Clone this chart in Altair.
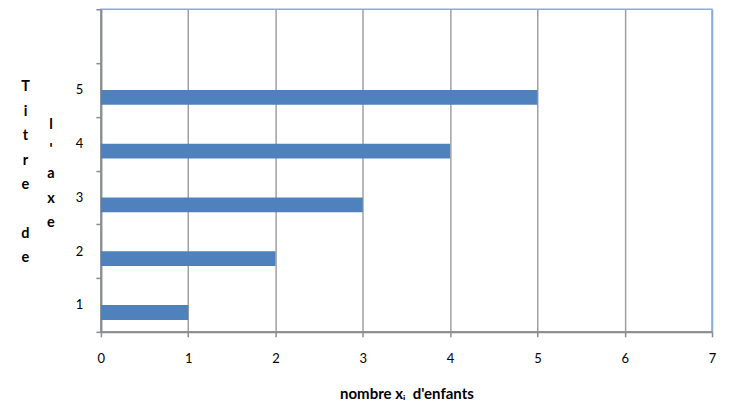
import altair as alt
import pandas as pd

# ---- data ----
categories = ["1", "2", "3", "4", "5"]
values = [1, 2, 3, 4, 5]
y_domain = [" ", "5", "4", "3", "2", "1"]   # top slot is empty
x_ticks = [0, 1, 2, 3, 4, 5, 6, 7]
series_name = "Série 1"
series_slots = ["Série 0", "Série 1"]
# y-axis title "Titre de l'axe", stacked letter by letter in two columns
y_title_words = ["Titre", "de", "l'axe"]
x_title = "nombre xᵢ\u2002d'enfants"

FONT = "Lato"
GREY = "#8c8c8c"
BLUE_BORDER = "#8eaadb"
LINE_H = 24.5

df = pd.DataFrame({"cat": categories, "val": values, "serie": [series_name] * len(values)})

bars = alt.Chart(df).mark_bar(color="#4f81bd").encode(
    x=alt.X(
        "val:Q",
        scale=alt.Scale(domain=[0, 7], nice=False, zero=True),
        axis=alt.Axis(
            values=x_ticks,
            format="d",
            grid=True,
            gridColor={"condition": {"test": "datum.value >= 7", "value": BLUE_BORDER}, "value": "#a0a0a0"},
            gridWidth=1.5,
            domainColor=GREY,
            domainWidth=2,
            tickColor=GREY,
            tickSize=5,
            tickWidth=1.5,
            labelFont=FONT,
            labelFontSize=13,
            labelColor="#000000",
            labelPadding=16,
            labelFlush=False,
            title=x_title,
            titleFont=FONT,
            titleFontSize=15,
            titleFontWeight="bold",
            titleColor="#000000",
            titleBaseline="alphabetic",
            titleY=67,
        ),
    ),
    y=alt.Y(
        "cat:N",
        scale=alt.Scale(domain=y_domain, paddingInner=0, paddingOuter=0),
        axis=alt.Axis(
            title=None,
            grid=False,
            tickBand="extent",
            tickColor=GREY,
            tickSize=5,
            tickWidth=1.5,
            domainColor=GREY,
            domainWidth=2,
            labelFont=FONT,
            labelFontSize=13,
            labelColor="#000000",
            labelPadding=13,
        ),
    ),
    yOffset=alt.YOffset(
        "serie:N",
        scale=alt.Scale(domain=series_slots, paddingInner=0, paddingOuter=0.8),
    ),
)


def stacked(word, x_px, y_px):
    return alt.Chart(alt.Data(values=[{"t": "\n".join(list(word))}])).mark_text(
        font=FONT, fontSize=14.5, fontWeight="bold", color="#000000",
        lineBreak="\n", lineHeight=LINE_H, align="center", baseline="alphabetic",
    ).encode(text="t:N", x=alt.value(x_px), y=alt.value(y_px))


t1 = stacked(y_title_words[0], -75.5, 82)
t2 = stacked(y_title_words[1], -75.5, 82 + 6 * LINE_H)
t3 = stacked(y_title_words[2], -50, 120.3)

chart = alt.layer(bars, t1, t2, t3).properties(
    width=612,
    height=323,
    autosize=alt.AutoSizeParams(type="none"),
    padding={"left": 93, "top": 1, "right": 10, "bottom": 70},
).configure_view(stroke=BLUE_BORDER, strokeWidth=1.5)

chart.save("out.html", embed_options={"renderer": "svg", "actions": False})
